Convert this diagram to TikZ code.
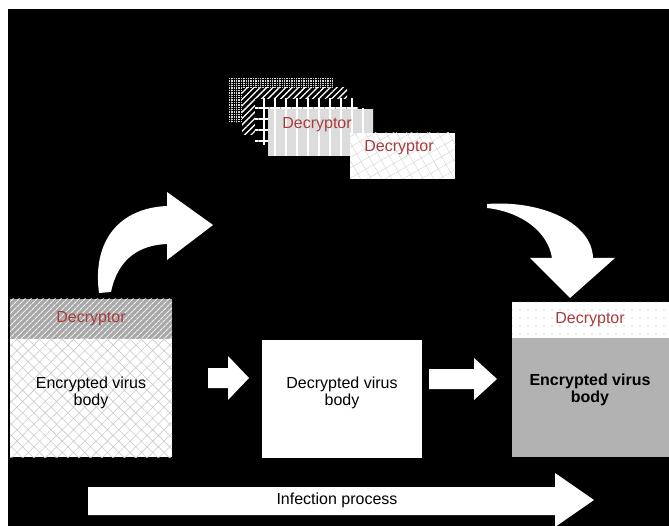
\documentclass[tikz,border=0pt]{standalone}
\usepackage{fontspec}
\setmainfont{Liberation Sans}
\usetikzlibrary{patterns,patterns.meta}
\definecolor{decred}{HTML}{A83C3C}
\definecolor{hatchgray}{HTML}{A8A8A8}
\definecolor{bodygray}{HTML}{B2B2B2}
\definecolor{cardgray}{HTML}{DCDCDC}
\tikzset{
  box/.style={anchor=north west,inner sep=0pt,outer sep=0pt,draw=none},
  bodytext/.style={align=center,font=\fontsize{16}{16.5}\selectfont,text=black,inner sep=0pt},
  dectext/.style={font=\fontsize{16}{16.5}\selectfont,text=decred,inner sep=0pt},
  blockarrow/.style={fill=white,draw=none},
}
\begin{document}
\begin{tikzpicture}[x=1pt,y=-1pt]
\useasboundingbox (0,0) rectangle (669,526);
\fill[white] (0,0) rectangle (669,526);
\fill[black] (8,9) rectangle (669,526);

% top stack of decryptor cards
\node[box,minimum width=105pt,minimum height=45pt,preaction={fill=white!85!black},
      pattern={Hatch[angle=0,distance=2.4pt,line width=0.6pt]},pattern color=black] (c1) at (228,78) {};
\node[box,minimum width=105pt,minimum height=47pt,preaction={fill=black},
      pattern={Lines[angle=45,distance=4.5pt,line width=1.3pt]},pattern color=white] (c2) at (242,88) {};
\node[box,minimum width=103pt,minimum height=46pt,preaction={fill=black},
      pattern={Hatch[angle=0,distance=11pt,line width=1.2pt]},pattern color=white] (c3) at (255,99) {};
\node[box,minimum width=105pt,minimum height=47pt,preaction={fill=cardgray},
      pattern={Lines[angle=90,distance=11pt,line width=1.5pt]},pattern color=white] (c4) at (268,109) {};
\node[box,minimum width=105pt,minimum height=46pt,preaction={fill=white},
      pattern={Hatch[angle=30,distance=9pt,line width=0.5pt]},pattern color=gray!30] (c5) at (350,133) {};
\node[dectext] (c4t) at (317,125) {Decryptor};
\node[dectext] (c5t) at (399,148) {Decryptor};

% left box
\node[box,minimum width=162pt,minimum height=40pt,preaction={fill=hatchgray},
      pattern={Lines[angle=45,distance=4pt,line width=1.1pt]},pattern color=white!90!gray] (ld) at (10,299) {};
\node[box,minimum width=162pt,minimum height=118pt,preaction={fill=white},
      pattern={Hatch[angle=45,distance=8pt,line width=0.6pt]},pattern color=gray!40] (lb) at (10,339) {};
\node[dectext] (ldt) at (91,319) {Decryptor};
\node[bodytext] (lbt) at (91,393) {Encrypted virus\\body};

% middle box
\node[box,minimum width=160pt,minimum height=118pt,fill=white] (mb) at (262,340) {};
\node[bodytext] (mbt) at (342,393) {Decrypted virus\\body};

% right box
\node[box,minimum width=157pt,minimum height=36pt,preaction={fill=white},
      pattern={Dots[distance=8pt,radius=0.6pt]},pattern color=gray!70] (rd) at (512,302) {};
\node[box,minimum width=157pt,minimum height=119pt,fill=bodygray] (rb) at (512,338) {};
\node[dectext] (rdt) at (590,320) {Decryptor};
\node[bodytext,font=\fontsize{16}{16.5}\selectfont\bfseries] (rbt) at (590,390) {Encrypted virus\\body};

% straight block arrows
\fill[blockarrow] (208,368) -- (228,368) -- (228,356) -- (249,378) -- (228,400) -- (228,388) -- (208,388) -- cycle;
\fill[blockarrow] (429,369) -- (474,369) -- (474,358) -- (497,379) -- (474,400) -- (474,389) -- (429,389) -- cycle;

% curved arrow up
\fill[blockarrow] (99,293) .. controls (92,240) and (120,208) .. (167,206)
  -- (167,192) -- (213,225) -- (167,260) -- (167,244)
  .. controls (140,245) and (118,258) .. (111,292) -- cycle;

% curved arrow down
\fill[blockarrow] (487,204) .. controls (540,200) and (592,222) .. (593,258)
  -- (615,258) -- (570,298) -- (530,258) -- (552,258)
  .. controls (548,232) and (522,212) .. (487,208) -- cycle;

% infection process arrow
\fill[blockarrow] (88,487) -- (555,487) -- (555,473) -- (594,500) -- (555,527) -- (555,515) -- (88,515) -- cycle;
\node[font=\fontsize{16}{16.5}\selectfont,text=black,inner sep=0pt] (inf) at (337,500) {Infection process};
\end{tikzpicture}
\end{document}
